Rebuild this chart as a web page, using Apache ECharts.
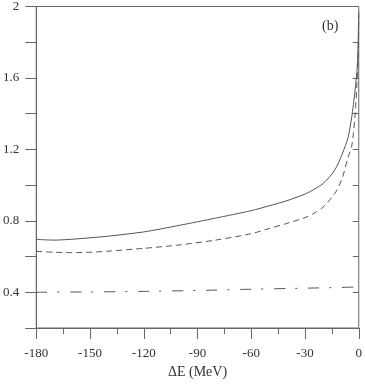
<!DOCTYPE html>
<html><head><meta charset="utf-8">
<script src="https://cdn.jsdelivr.net/npm/echarts@6/dist/echarts.min.js"></script>
<style>html,body{margin:0;padding:0;background:#fff}#c{width:365px;height:384px}</style>
</head><body><div id="c"></div>
<script>
const xSolid = [-180,-170,-160,-150,-140,-120,-100,-80,-60,-50,-40,-30,-25,-20,-15,-12,-9,-6,-4,-3,-2,-1,-0.5,0];
const ySolid = [0.696,0.692,0.697,0.705,0.714,0.738,0.775,0.815,0.857,0.884,0.913,0.95,0.976,1.008,1.062,1.11,1.18,1.265,1.375,1.45,1.535,1.64,1.74,1.97];
const xDashed = [-180,-170,-160,-150,-140,-120,-100,-80,-60,-50,-40,-30,-25,-20,-15,-12,-9,-6,-4,-3,-2,-1,-0.25,0];
const yDashed = [0.629,0.624,0.622,0.624,0.63,0.646,0.665,0.692,0.728,0.757,0.786,0.818,0.842,0.876,0.932,0.975,1.045,1.155,1.215,1.29,1.4,1.57,1.72,1.95];
const xDashDot = [-180,-150,-120,-90,-60,-30,-10,0];
const yDashDot = [0.40,0.402,0.405,0.41,0.417,0.423,0.427,0.43];
const xTicks = [-180,-150,-120,-90,-60,-30,0];
const yTickLabels = [0.4,0.8,1.2,1.6,2];
const panelLabel = '(b)';
const xTitle = '\u0394E (MeV)';

const pair = (xs, ys) => xs.map((x, i) => [x, ys[i]]);
const font = 'Liberation Serif';
const axisCol = '#666';
const lineCol = '#555';

const chart = echarts.init(document.getElementById('c'), null, {renderer: 'canvas'});
chart.setOption({
  animation: false,
  backgroundColor: '#fff',
  grid: {left: 33, right: 4, top: 5, bottom: 51, show: true, borderColor: axisCol, borderWidth: 1},
  xAxis: {
    type: 'value', min: -180, max: 0, interval: 30,
    name: xTitle, nameLocation: 'middle', nameGap: 37,
    nameTextStyle: {fontFamily: font, fontSize: 14, color: '#333'},
    axisLine: {show: true, onZero: false, lineStyle: {color: axisCol, width: 1}},
    axisTick: {show: true, inside: false, length: 11, lineStyle: {color: axisCol}},
    minorTick: {show: true, splitNumber: 2, length: 6, lineStyle: {color: axisCol}},
    splitLine: {show: false},
    axisLabel: {fontFamily: font, fontSize: 13, color: '#333', margin: 19,
      formatter: v => xTicks.includes(v) ? String(v) : ''}
  },
  yAxis: [{
    type: 'value', min: 0.2, max: 2, interval: 0.2,
    axisLine: {show: true, onZero: false, lineStyle: {color: axisCol, width: 1}},
    axisTick: {show: true, inside: false, length: 11, lineStyle: {color: axisCol},
      interval: (i, v) => yTickLabels.some(t => Math.abs(t - Number(v)) < 1e-6)},
    splitLine: {show: false},
    axisLabel: {fontFamily: font, fontSize: 13, color: '#333', margin: 17,
      interval: (i, v) => yTickLabels.some(t => Math.abs(t - Number(v)) < 1e-6),
      formatter: v => { const t = yTickLabels.find(t => Math.abs(t - v) < 1e-6); return t === undefined ? '' : String(t); }}
  }, {
    type: 'value', min: 0.2, max: 2, interval: 0.2, position: 'left',
    axisLine: {show: false},
    axisTick: {show: true, inside: false, length: 6, lineStyle: {color: axisCol}},
    splitLine: {show: false},
    axisLabel: {show: false}
  }],
  graphic: [{
    type: 'text', left: 322, top: 19,
    style: {text: panelLabel, font: '14px "Liberation Serif"', fill: '#333'}
  }],
  series: [
    {type: 'line', data: pair(xSolid, ySolid), smooth: 0.25, showSymbol: false,
      lineStyle: {color: lineCol, width: 1}},
    {type: 'line', data: pair(xDashed, yDashed), smooth: 0.25, showSymbol: false,
      lineStyle: {color: lineCol, width: 1, type: [6, 4]}},
    {type: 'line', data: pair(xDashDot, yDashDot), smooth: 0.25, showSymbol: false,
      lineStyle: {color: lineCol, width: 1, type: [11, 10, 2, 11]}}
  ]
});
</script></body></html>
